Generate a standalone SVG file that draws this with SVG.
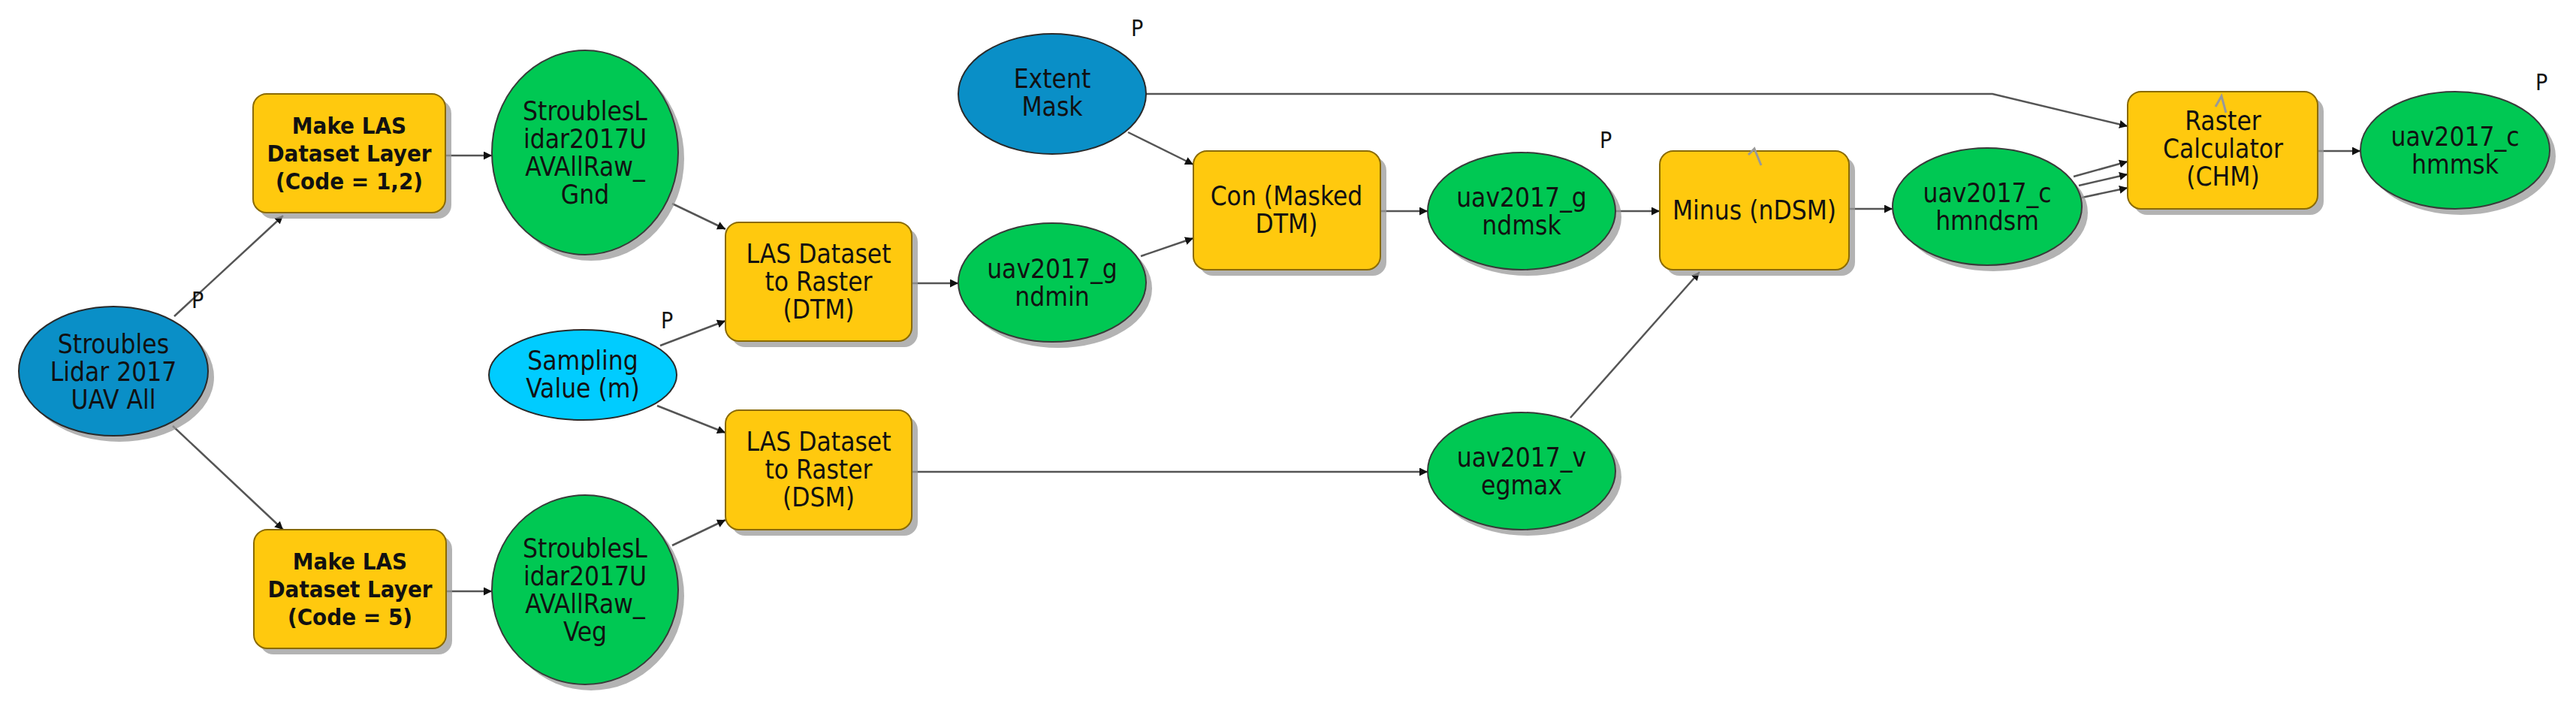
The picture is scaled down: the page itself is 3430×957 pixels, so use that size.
<svg xmlns="http://www.w3.org/2000/svg" width="3430" height="957" viewBox="0 0 3430 957">
<defs>
<marker id="ah" viewBox="0 0 10 10" refX="10" refY="5" markerWidth="11" markerHeight="11" markerUnits="userSpaceOnUse" orient="auto"><path d="M0,0 L10,5 L0,10 z" fill="#111"/></marker>
<style>
.sh{fill:#9a9a9a;opacity:0.75}
.tool{fill:#FFC90E;stroke:#8a6a00;stroke-width:2}
.data{fill:#00C853;stroke:#3a3a3a;stroke-width:2}
.inp{fill:#0A8FC7;stroke:#2a2a2a;stroke-width:2}
.val{fill:#00CCFF;stroke:#2a2a2a;stroke-width:2}
text{font-family:"DejaVu Sans Condensed","Liberation Sans Narrow","Liberation Sans",sans-serif;font-size:35px;fill:#111;text-anchor:middle}
.b{font-family:"DejaVu Sans Condensed","Liberation Sans",sans-serif;font-weight:bold;font-size:31px}
.p{font-size:30px;text-anchor:start}
.c line,.c polyline{stroke:#555;stroke-width:2.5;fill:none;marker-end:url(#ah)}
</style>
</defs>
<rect width="3430" height="957" fill="#fff"/>
<g class="c" id="connectors">
<line x1="232" y1="421" x2="377" y2="287"/>
<line x1="230" y1="567" x2="377" y2="705"/>
<line x1="593" y1="207" x2="655" y2="207"/>
<line x1="594" y1="787" x2="655" y2="787"/>
<line x1="895" y1="271" x2="966" y2="305"/>
<line x1="879" y1="460" x2="966" y2="427"/>
<line x1="875" y1="540" x2="966" y2="576"/>
<line x1="895" y1="726" x2="966" y2="692"/>
<line x1="1214" y1="377" x2="1276" y2="377"/>
<line x1="1214" y1="628" x2="1901" y2="628"/>
<line x1="1502" y1="176" x2="1589" y2="219"/>
<line x1="1519" y1="341" x2="1589" y2="317"/>
<line x1="1838" y1="281" x2="1901" y2="281"/>
<line x1="2151" y1="281" x2="2210" y2="281"/>
<line x1="2091" y1="556" x2="2263" y2="362"/>
<line x1="2462" y1="278" x2="2520" y2="278"/>
<polyline points="1526,125 2653,125 2833,168"/>
<line x1="2761" y1="235" x2="2833" y2="215"/>
<line x1="2768" y1="247" x2="2833" y2="232"/>
<line x1="2772" y1="263" x2="2833" y2="250"/>
<line x1="3086" y1="201" x2="3143" y2="201"/>
</g>
<g id="stroubles"><ellipse class="sh" cx="159" cy="502" rx="126" ry="86"/><ellipse class="inp" cx="151" cy="494" rx="126" ry="86"/><text x="151" y="470">Stroubles</text><text x="151" y="507">Lidar 2017</text><text x="151" y="544">UAV All</text></g>
<text class="p" x="255" y="410">P</text>
<g id="make1"><rect class="sh" x="345" y="133" width="256" height="158" rx="18"/><rect class="tool" x="337" y="125" width="256" height="158" rx="18"/><text class="b" x="465" y="178">Make LAS</text><text class="b" x="465" y="215">Dataset Layer</text><text class="b" x="465" y="252">(Code = 1,2)</text></g>
<g id="make2"><rect class="sh" x="346" y="713" width="256" height="158" rx="18"/><rect class="tool" x="338" y="705" width="256" height="158" rx="18"/><text class="b" x="466" y="758">Make LAS</text><text class="b" x="466" y="795">Dataset Layer</text><text class="b" x="466" y="832">(Code = 5)</text></g>
<g id="gnd"><ellipse class="sh" cx="787" cy="211" rx="124" ry="136"/><ellipse class="data" cx="779" cy="203" rx="124" ry="136"/><text x="779" y="160">StroublesL</text><text x="779" y="197">idar2017U</text><text x="779" y="234">AVAllRaw_</text><text x="779" y="271">Gnd</text></g>
<g id="veg"><ellipse class="sh" cx="787" cy="793" rx="124" ry="126"/><ellipse class="data" cx="779" cy="785" rx="124" ry="126"/><text x="779" y="742">StroublesL</text><text x="779" y="779">idar2017U</text><text x="779" y="816">AVAllRaw_</text><text x="779" y="853">Veg</text></g>
<g id="sampling"><ellipse class="val" cx="776" cy="499" rx="125" ry="60"/><text x="776" y="492">Sampling</text><text x="776" y="529">Value (m)</text></g>
<text class="p" x="880" y="437">P</text>
<g id="dtm"><rect class="sh" x="974" y="304" width="248" height="158" rx="18"/><rect class="tool" x="966" y="296" width="248" height="158" rx="18"/><text x="1090" y="350">LAS Dataset</text><text x="1090" y="387">to Raster</text><text x="1090" y="424">(DTM)</text></g>
<g id="dsm"><rect class="sh" x="974" y="554" width="248" height="159" rx="18"/><rect class="tool" x="966" y="546" width="248" height="159" rx="18"/><text x="1090" y="600">LAS Dataset</text><text x="1090" y="637">to Raster</text><text x="1090" y="674">(DSM)</text></g>
<g id="extent"><ellipse class="inp" cx="1401" cy="125" rx="125" ry="80"/><text x="1401" y="117">Extent</text><text x="1401" y="154">Mask</text></g>
<text class="p" x="1506" y="48">P</text>
<g id="gndmin"><ellipse class="sh" cx="1409" cy="384" rx="125" ry="79"/><ellipse class="data" cx="1401" cy="376" rx="125" ry="79"/><text x="1401" y="370">uav2017_g</text><text x="1401" y="407">ndmin</text></g>
<g id="con"><rect class="sh" x="1597" y="209" width="249" height="158" rx="18"/><rect class="tool" x="1589" y="201" width="249" height="158" rx="18"/><text x="1713" y="273">Con (Masked</text><text x="1713" y="310">DTM)</text></g>
<g id="gndmsk"><ellipse class="sh" cx="2034" cy="289" rx="125" ry="78"/><ellipse class="data" cx="2026" cy="281" rx="125" ry="78"/><text x="2026" y="275">uav2017_g</text><text x="2026" y="312">ndmsk</text></g>
<text class="p" x="2130" y="197">P</text>
<g id="vegmax"><ellipse class="sh" cx="2034" cy="635" rx="125" ry="78"/><ellipse class="data" cx="2026" cy="627" rx="125" ry="78"/><text x="2026" y="621">uav2017_v</text><text x="2026" y="658">egmax</text></g>
<g id="minus"><rect class="sh" x="2218" y="209" width="252" height="158" rx="18"/><rect class="tool" x="2210" y="201" width="252" height="158" rx="18"/><text x="2336" y="292">Minus (nDSM)</text><path d="M2328,206 L2336,198 L2345,220" stroke="#999" stroke-width="3" fill="none"/></g>
<g id="chmndsm"><ellipse class="sh" cx="2654" cy="283" rx="126" ry="78"/><ellipse class="data" cx="2646" cy="275" rx="126" ry="78"/><text x="2646" y="269">uav2017_c</text><text x="2646" y="306">hmndsm</text></g>
<g id="rastercalc"><rect class="sh" x="2841" y="130" width="253" height="156" rx="18"/><rect class="tool" x="2833" y="122" width="253" height="156" rx="18"/><text x="2960" y="173">Raster</text><text x="2960" y="210">Calculator</text><text x="2960" y="247">(CHM)</text><path d="M2950,142 L2958,128 L2964,150" stroke="#999" stroke-width="3" fill="none"/></g>
<g id="chmmsk"><ellipse class="sh" cx="3277" cy="208" rx="126" ry="78"/><ellipse class="data" cx="3269" cy="200" rx="126" ry="78"/><text x="3269" y="194">uav2017_c</text><text x="3269" y="231">hmmsk</text></g>
<text class="p" x="3376" y="120">P</text>
</svg>
